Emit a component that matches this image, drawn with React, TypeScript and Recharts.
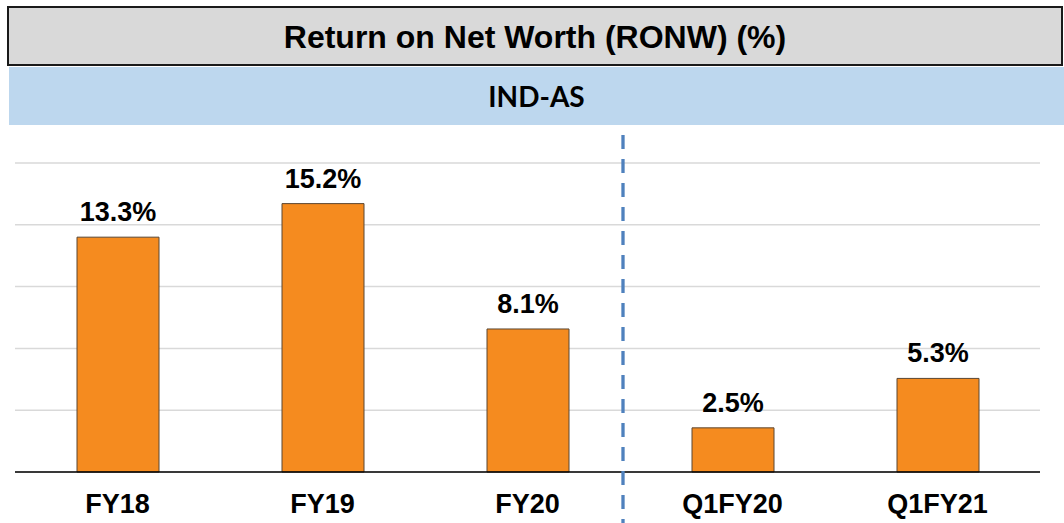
import { Bar, BarChart, CartesianGrid, LabelList, XAxis, YAxis } from 'recharts';

const periods = ['FY18', 'FY19', 'FY20', 'Q1FY20', 'Q1FY21'];
const ronw = [13.3, 15.2, 8.1, 2.5, 5.3];
const yTicks = [0, 3.5, 7, 10.5, 14, 17.5];

const data = periods.map((p, i) => ({ period: p, ronw: ronw[i] }));

const FONT = '"Liberation Sans", Arial, sans-serif';

function PeriodTick({ x, y, payload }: any) {
    return (
        <text x={x} y={y + 33} textAnchor="middle" fontFamily={FONT} fontWeight={700} fontSize={27} fill="#000">
            {payload.value}
        </text>
    );
}

export default function App() {
    return (
        <div style={{ position: 'relative', width: 1064, height: 523, background: '#fff', overflow: 'hidden' }}>
            <style>{'body{margin:0}'}</style>
            <div
                style={{
                    position: 'absolute',
                    left: 7,
                    top: 6,
                    width: 1052,
                    height: 54,
                    background: '#d9d9d9',
                    border: '2px solid #1a1a1a',
                    display: 'flex',
                    alignItems: 'center',
                    justifyContent: 'center',
                    fontFamily: FONT,
                    fontWeight: 700,
                    fontSize: 32,
                    paddingTop: 2,
                    boxSizing: 'content-box',
                }}
            >
                Return on Net Worth (RONW) (%)
            </div>
            <div
                style={{
                    position: 'absolute',
                    left: 9,
                    top: 67,
                    width: 1055,
                    height: 58,
                    background: '#bdd7ee',
                    display: 'flex',
                    alignItems: 'center',
                    justifyContent: 'center',
                    fontFamily: 'Lato, "Open Sans", sans-serif',
                    fontWeight: 700,
                    fontSize: 28,
                }}
            >
                IND-AS
            </div>
            <div style={{ position: 'absolute', left: 0, top: 0 }}>
                <BarChart width={1064} height={523} data={data} margin={{ top: 163, right: 24, bottom: 6, left: 15 }}>
                    <CartesianGrid horizontal={true} vertical={false} stroke="#d9d9d9" strokeWidth={1.5} />
                    <YAxis hide domain={[0, 17.5]} ticks={yTicks} />
                    <XAxis
                        dataKey="period"
                        height={45}
                        axisLine={{ stroke: '#000', strokeWidth: 1.5 }}
                        tickLine={false}
                        tick={<PeriodTick />}
                        interval={0}
                    />
                    <Bar dataKey="ronw" fill="#f58b1f" stroke="#5a4632" strokeWidth={1} barSize={82} isAnimationActive={false}>
                        <LabelList
                            dataKey="ronw"
                            position="top"
                            offset={16}
                            formatter={(v: any) => `${Number(v).toFixed(1)}%`}
                            style={{ fontFamily: FONT, fontWeight: 700, fontSize: 27, fill: '#000' }}
                        />
                    </Bar>
                </BarChart>
            </div>
            <svg style={{ position: 'absolute', left: 0, top: 0, pointerEvents: 'none' }} width={1064} height={523}>
                <line x1={623} x2={623} y1={135} y2={523} stroke="#4f81bd" strokeWidth={3.3} strokeDasharray="14 10" />
            </svg>
        </div>
    );
}
